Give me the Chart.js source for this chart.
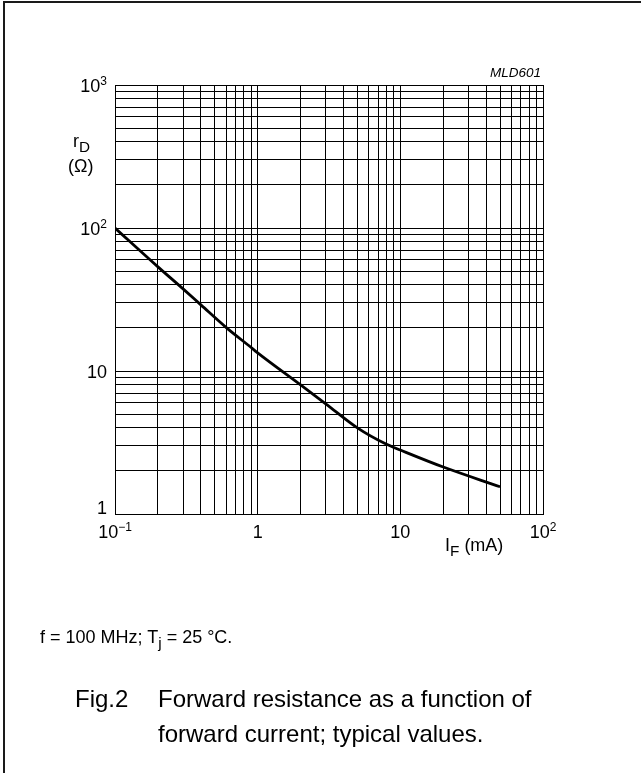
<!DOCTYPE html>
<html>
<head>
<meta charset="utf-8">
<script src="https://cdn.jsdelivr.net/npm/chart.js@4"></script>
<style>
  html, body { margin: 0; padding: 0; background: #fff; }
  body { width: 641px; height: 773px; position: relative; overflow: hidden;
         font-family: "Liberation Sans", Arial, sans-serif; color: #000; }
  #frame { position: absolute; left: 3px; top: 1px; width: 700px; height: 800px;
           border-left: 2px solid #1a1a1a; border-top: 2px solid #1a1a1a; }
  #chart { position: absolute; left: 0; top: 0; }
  .txt { position: absolute; white-space: nowrap; line-height: 1; }
  .sub { font-size: 0.85em; position: relative; top: 0.33em; }
</style>
</head>
<body>
<div id="frame"></div>
<canvas id="chart" width="641" height="773"></canvas>

<div class="txt" style="right:100px; top:66px; font-size:13.5px; font-style:italic;">MLD601</div>
<div class="txt" style="left:73px; top:132px; font-size:18px;">r<span class="sub">D</span></div>
<div class="txt" style="left:68px; top:157px; font-size:18px;">(Ω)</div>
<div class="txt" style="left:445px; top:536px; font-size:18px;">I<span class="sub">F</span> (mA)</div>
<div class="txt" style="left:40px; top:628px; font-size:18px;">f = 100 MHz; T<span class="sub">j</span> = 25 °C.</div>
<div class="txt" style="left:75px; top:681px; font-size:24px; line-height:35px;">Fig.2</div>
<div class="txt" style="left:158px; top:681px; font-size:24px; line-height:35px;">Forward resistance as a function of<br>forward current; typical values.</div>

<script>
// forward current I_F (mA) vs forward resistance r_D (ohm)
const currentMA = [0.1, 0.2, 0.3, 0.4, 0.6, 0.9, 1, 2, 3, 5, 8, 10, 20, 50];
const resistanceOhm = [100, 53.5, 37.5, 29, 20.2, 14.6, 13.4, 8, 5.9, 4.0, 3.07, 2.8, 2.13, 1.55];

// labelled ticks: [value, base text, exponent]
const xTickLabels = [[0.1, '10', '\u22121'], [1, '1', ''], [10, '10', ''], [100, '10', '2']];
const yTickLabels = [[1, '1', ''], [10, '10', ''], [100, '10', '2'], [1000, '10', '3']];

// grid lines at 1..9 of every decade
function decadeGrid(min, max) {
    const out = [];
    for (let d = min; d < max; d *= 10) {
        for (let k = 1; k < 10; k++) out.push(+(d * k).toPrecision(3));
    }
    out.push(max);
    return out;
}

const BASE_FONT = '18px "Liberation Sans", Arial, sans-serif';
const EXP_FONT = '12px "Liberation Sans", Arial, sans-serif';

function drawPow(ctx, base, exp, x, y, align) {
    ctx.font = BASE_FONT;
    const wb = ctx.measureText(base).width;
    ctx.font = EXP_FONT;
    const we = exp ? ctx.measureText(exp).width : 0;
    const total = wb + we;
    const start = align === 'right' ? x - total : x - total / 2;
    ctx.font = BASE_FONT;
    ctx.fillText(base, start, y);
    if (exp) {
        ctx.font = EXP_FONT;
        ctx.fillText(exp, start + wb, y - 7);
    }
}

const tickLabelPlugin = {
    id: 'tickLabels',
    afterDraw(chart) {
        const ctx = chart.ctx;
        const xs = chart.scales.x, ys = chart.scales.y;
        ctx.save();
        ctx.fillStyle = '#000';
        ctx.textAlign = 'left';
        ctx.textBaseline = 'alphabetic';
        yTickLabels.forEach(([v, b, e]) => {
            const py = ys.getPixelForValue(v);
            // the bottom label sits above the x labels
            const base = py >= ys.bottom - 1 ? py : py + 6.5;
            drawPow(ctx, b, e, xs.left - 8, base, 'right');
        });
        xTickLabels.forEach(([v, b, e]) => {
            drawPow(ctx, b, e, xs.getPixelForValue(v), ys.bottom + 24, 'center');
        });
        ctx.restore();
    }
};

const gridOpts = { color: '#000', lineWidth: 1, drawTicks: false };

new Chart(document.getElementById('chart'), {
    type: 'line',
    data: {
        datasets: [{
            data: currentMA.map((x, i) => ({ x: x, y: resistanceOhm[i] })),
            borderColor: '#000',
            borderWidth: 2.8,
            pointRadius: 0,
            cubicInterpolationMode: 'monotone',
            fill: false
        }]
    },
    options: {
        responsive: false,
        animation: false,
        devicePixelRatio: 1,
        layout: { padding: { left: 0, top: 85, right: 98, bottom: 0 } },
        plugins: { legend: { display: false }, tooltip: { enabled: false } },
        scales: {
            x: {
                type: 'logarithmic',
                min: 0.1, max: 100,
                grid: gridOpts,
                border: { color: '#000', width: 1 },
                ticks: { display: false },
                afterBuildTicks: s => { s.ticks = decadeGrid(0.1, 100).map(v => ({ value: v })); },
                afterFit: s => { s.height = 773 - 514; }
            },
            y: {
                type: 'logarithmic',
                min: 1, max: 1000,
                grid: gridOpts,
                border: { color: '#000', width: 1 },
                ticks: { display: false },
                afterBuildTicks: s => { s.ticks = decadeGrid(1, 1000).map(v => ({ value: v })); },
                afterFit: s => { s.width = 115; }
            }
        }
    },
    plugins: [tickLabelPlugin]
});
</script>
</body>
</html>
